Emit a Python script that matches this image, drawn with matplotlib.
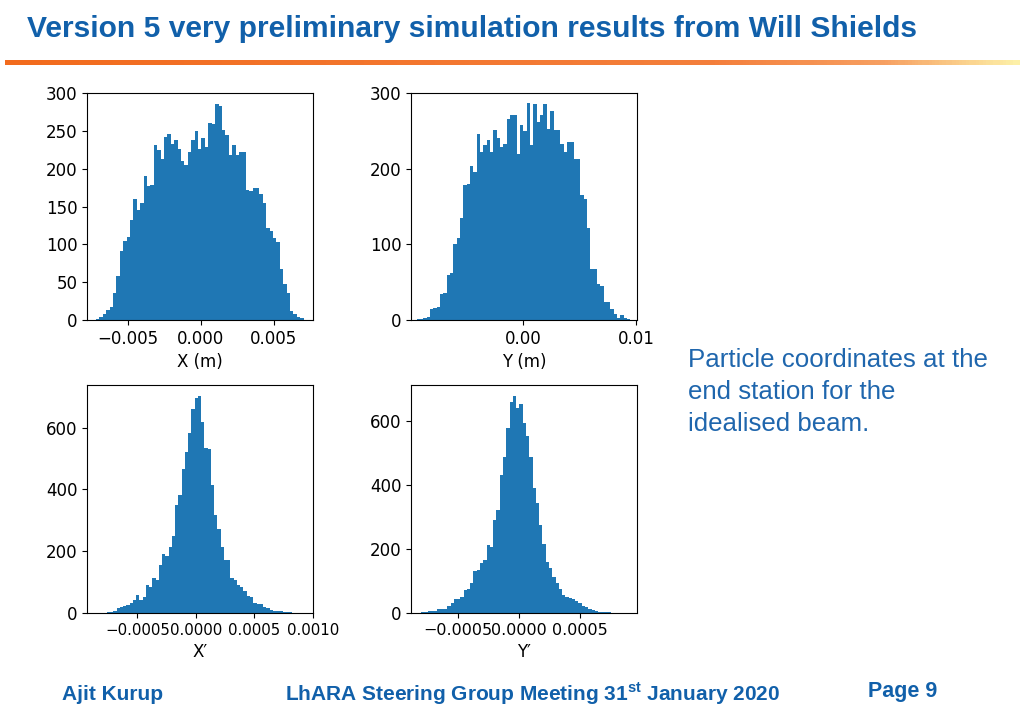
import numpy as np
import matplotlib
matplotlib.use("Agg")
import matplotlib.pyplot as plt
from matplotlib.colors import LinearSegmentedColormap

# histogram counts, equal-width bins between lo and hi
x_counts = [1, 4, 8, 13, 17, 36, 58, 91, 104, 110, 132, 160, 146, 155, 190, 177, 179, 231, 225, 213,
            242, 246, 232, 238, 226, 210, 205, 222, 238, 250, 226, 241, 228, 260, 259, 285, 283, 251, 245, 218,
            231, 218, 222, 222, 172, 171, 175, 174, 166, 155, 122, 117, 108, 103, 67, 48, 36, 12, 8, 4, 2]
x_range = (-0.00719, 0.00705)

y_counts = [0.5, 1, 1, 3, 4, 14, 16, 17, 34, 36, 59, 62, 100, 108, 135, 178, 180, 204, 195, 246,
            222, 231, 238, 222, 251, 240, 228, 233, 266, 271, 271, 219, 258, 250, 287, 231, 286, 262, 271, 285,
            252, 276, 251, 251, 233, 222, 235, 235, 213, 213, 165, 160, 121, 67, 67, 48, 45, 24, 24, 15,
            8, 3, 6, 3, 1]
y_range = (-0.0097, 0.00947)

xp_counts = [2, 3, 5, 15, 20, 22, 26, 32, 42, 58, 42, 52, 90, 85, 112, 107, 156, 191, 183, 215,
             248, 350, 383, 466, 520, 583, 660, 696, 702, 617, 534, 531, 415, 318, 271, 215, 172, 172, 112, 107,
             91, 85, 72, 55, 52, 32, 30, 28, 20, 15, 10, 8, 5, 5, 4, 3, 2]
xp_range = (-0.00076, 0.000823)

yp_counts = [3, 2, 5, 7, 6, 12, 14, 13, 22, 30, 43, 44, 50, 72,
             74, 93, 130, 135, 158, 166, 213, 208, 292, 321, 432, 490, 579, 660, 678, 642,
             655, 594, 555, 490, 391, 346, 276, 216, 161, 140, 112, 93, 74, 55, 51,
             48, 45, 37, 30, 23, 18, 12, 8, 5, 4, 3, 2, 2, 1]
yp_range = (-0.000803, 0.000786)

panels = [
    (x_counts, x_range, "X (m)", (-0.0078, 0.00769), (0, 300),
     [0, 50, 100, 150, 200, 250, 300], [-0.005, 0.0, 0.005]),
    (y_counts, y_range, "Y (m)", (-0.0099, 0.01006), (0, 300),
     [0, 100, 200, 300], [0.0, 0.01]),
    (xp_counts, xp_range, "X\u2032", (-0.00093, 0.001), (0, 738),
     [0, 200, 400, 600], [-0.0005, 0.0, 0.0005, 0.001]),
    (yp_counts, yp_range, "Y\u2032", (-0.000885, 0.00097), (0, 714),
     [0, 200, 400, 600], [-0.0005, 0.0, 0.0005]),
]
xtick_fmt = ["%.3f", "%.2f", "%.4f", "%.4f"]
xtick_size = [12, 12, 10.8, 11.5]

title = "Version 5 very preliminary simulation results from Will Shields"
side_lines = ["Particle coordinates at the", "end station for the", "idealised beam."]

blue = "#1160aa"
sans = ["Liberation Sans", "DejaVu Sans"]

fig = plt.figure(figsize=(10.24, 7.09), dpi=100)

# axes boxes in pixels: left, top, right, bottom
boxes = [(87, 93, 313, 320), (411, 93, 637, 320), (87, 385, 313, 613), (411, 385, 637, 613)]
W, H = 1024, 709
for (counts, rng, label, xlim, ylim, yticks, xticks), fmt, xs, (l, t, r, b) in zip(
        panels, xtick_fmt, xtick_size, boxes):
    ax = fig.add_axes([l / W, 1 - b / H, (r - l) / W, (b - t) / H])
    edges = np.linspace(rng[0], rng[1], len(counts) + 1)
    ax.hist(edges[:-1], bins=edges, weights=counts, color="#1f77b4")
    ax.set_xlim(*xlim)
    ax.set_ylim(*ylim)
    ax.set_yticks(yticks)
    ax.set_xticks(xticks)
    ax.set_xticklabels([(fmt % v).replace("-", "\u2212") for v in xticks])
    ax.set_xlabel(label, fontsize=12, labelpad=3.5)
    ax.tick_params(axis="y", labelsize=12)
    ax.tick_params(axis="x", labelsize=xs)

# title and orange rule
fig.text(27 / W, 1 - 37 / H, title, fontsize=21.6, fontweight="bold", color=blue,
         family=sans, va="baseline", ha="left")
grad = LinearSegmentedColormap.from_list(
    "rule", [(0, "#f26b1d"), (0.7, "#f47f3c"), (0.87, "#f7a062"), (1.0, "#fdf0a8")])
rule = fig.add_axes([5 / W, 1 - 65 / H, 1015 / W, 5 / H])
rule.imshow(np.linspace(0, 1, 300)[None, :], aspect="auto", cmap=grad)
rule.axis("off")

for i, line in enumerate(side_lines):
    fig.text(688 / W, 1 - (367 + 32 * i) / H, line, fontsize=18.6, color="#1f66ad",
             family=sans, va="baseline", ha="left")

# footer
plt.rcParams["mathtext.fontset"] = "custom"
plt.rcParams["mathtext.bf"] = "Liberation Sans:bold"
fig.text(62 / W, 1 - 694 / H, "Ajit Kurup", fontsize=15, fontweight="bold", color=blue,
         family=sans, va="center", ha="left")
fig.text(285 / W, 1 - 694 / H, r"LhARA Steering Group Meeting 31$^{\mathbf{st}}$ January 2020",
         fontsize=15, fontweight="bold", color=blue, family=sans, va="center", ha="left")
fig.text(868 / W, 1 - 692 / H, "Page 9", fontsize=15.5, fontweight="bold", color=blue,
         family=sans, va="center", ha="left")

fig.savefig("out.png", dpi=100)
